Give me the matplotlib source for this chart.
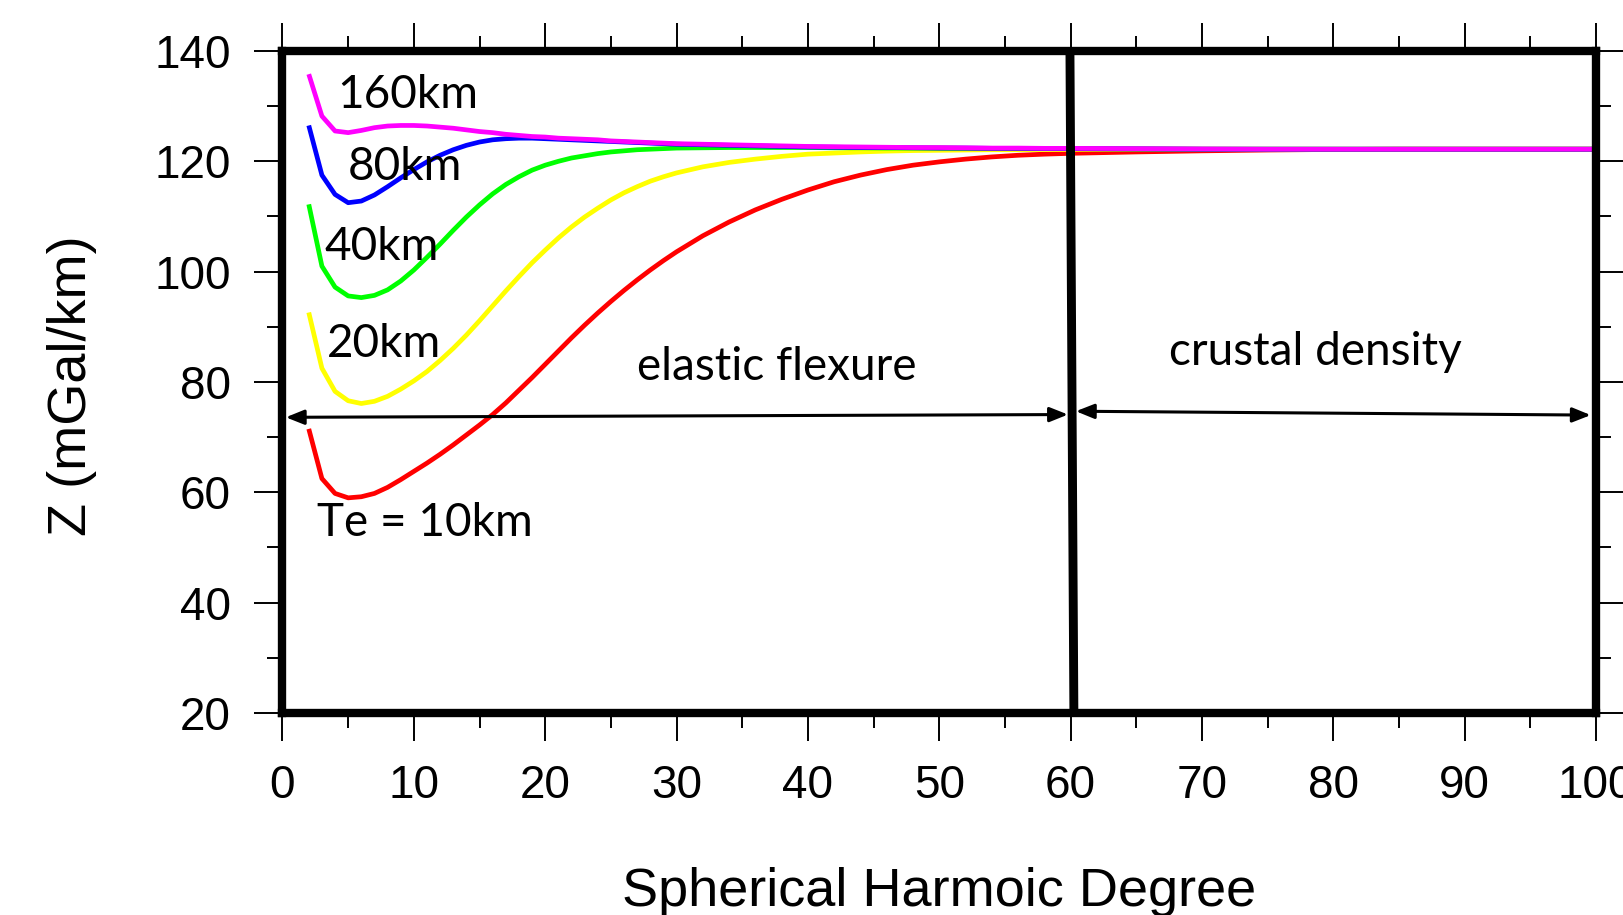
import numpy as np
import matplotlib.pyplot as plt
from matplotlib.ticker import MultipleLocator

# spherical harmonic degree (shared by all curves)
degree = list(range(2, 31)) + list(range(32, 61, 2)) + list(range(65, 101, 5))

# admittance Z (mGal/km) for each elastic thickness Te
z_te10 = [71.5, 62.5, 59.8, 59.0, 59.2, 59.8, 60.9, 62.3, 63.8, 65.3,
          66.9, 68.6, 70.4, 72.2, 74.1, 76.2, 78.5, 80.8, 83.2, 85.6,
          88.0, 90.3, 92.5, 94.6, 96.6, 98.5, 100.3, 102.0, 103.6,
          106.5, 109.0, 111.2, 113.1, 114.8, 116.3, 117.5, 118.5, 119.3,
          119.9, 120.4, 120.8, 121.1, 121.3, 121.45,
          121.7, 121.9, 122.05, 122.15, 122.2, 122.2, 122.2, 122.2]
z_te20 = [92.6, 82.5, 78.3, 76.6, 76.1, 76.5, 77.4, 78.7, 80.2, 81.9,
          83.9, 86.1, 88.5, 91.1, 93.8, 96.5, 99.1, 101.6, 103.9, 106.1,
          108.1, 109.9, 111.5, 113.0, 114.3, 115.4, 116.4, 117.2, 117.9,
          119.0, 119.8, 120.4, 120.9, 121.3, 121.5, 121.7, 121.85, 121.95,
          122.0, 122.05, 122.1, 122.1, 122.15, 122.15,
          122.2, 122.2, 122.2, 122.2, 122.2, 122.2, 122.2, 122.2]
z_te40 = [112.2, 101.0, 97.2, 95.6, 95.3, 95.7, 96.7, 98.3, 100.3, 102.6,
          105.0, 107.5, 109.9, 112.1, 114.1, 115.8, 117.2, 118.4, 119.3, 120.0,
          120.6, 121.0, 121.4, 121.7, 121.9, 122.1, 122.2, 122.3, 122.4,
          122.45, 122.5, 122.5, 122.5, 122.5, 122.45, 122.45, 122.4, 122.4,
          122.4, 122.35, 122.35, 122.3, 122.3, 122.3,
          122.25, 122.2, 122.2, 122.2, 122.2, 122.2, 122.2, 122.2]
z_te80 = [126.5, 117.5, 114.0, 112.5, 112.8, 113.9, 115.4, 117.0, 118.5, 119.9,
          121.1, 122.1, 122.9, 123.5, 123.9, 124.1, 124.2, 124.2, 124.1, 124.0,
          123.9, 123.8, 123.7, 123.6, 123.5, 123.4, 123.3, 123.2, 123.1,
          123.0, 122.9, 122.8, 122.7, 122.6, 122.55, 122.5, 122.5, 122.45,
          122.4, 122.4, 122.35, 122.35, 122.3, 122.3,
          122.25, 122.2, 122.2, 122.2, 122.2, 122.2, 122.2, 122.2]
z_te160 = [135.8, 128.2, 125.5, 125.2, 125.6, 126.1, 126.4, 126.5, 126.5, 126.4,
           126.2, 126.0, 125.7, 125.4, 125.2, 124.9, 124.7, 124.5, 124.4, 124.2,
           124.1, 124.0, 123.9, 123.7, 123.6, 123.5, 123.4, 123.3, 123.2,
           123.1, 123.0, 122.9, 122.8, 122.7, 122.65, 122.6, 122.55, 122.5,
           122.5, 122.45, 122.4, 122.4, 122.35, 122.35,
           122.3, 122.25, 122.2, 122.2, 122.2, 122.2, 122.2, 122.2]

curves = [(z_te10, "#ff0000"), (z_te20, "#ffff00"), (z_te40, "#00ff00"),
          (z_te80, "#0000ff"), (z_te160, "#ff00ff")]

# curve labels: (text, degree of left edge, Z at baseline)
labels = [("160km", 4.2, 129.6), ("80km", 5.0, 116.6), ("40km", 3.2, 102.1),
          ("20km", 3.4, 84.6), ("Te = 10km", 2.6, 52.0),
          ("elastic flexure", 27.0, 80.4), ("crustal density", 67.5, 83.1)]

plt.rcParams["font.family"] = ["Liberation Sans", "DejaVu Sans"]

fig = plt.figure(figsize=(16.23, 9.15), dpi=100)
ax = fig.add_axes([0.17406, 0.22077, 0.80931, 0.72350])

for z, c in curves:
    ax.plot(degree, z, color=c, lw=3.4, solid_joinstyle="round",
            solid_capstyle="butt", zorder=3)

# boundary between the two regimes
ax.plot([59.95, 60.25], [140, 20], color="black", lw=6.4, zorder=4,
        solid_capstyle="butt", clip_on=False)

ax.set_xlim(0, 100)
ax.set_ylim(20, 140)
ax.xaxis.set_major_locator(MultipleLocator(10))
ax.xaxis.set_minor_locator(MultipleLocator(5))
ax.yaxis.set_major_locator(MultipleLocator(20))
ax.yaxis.set_minor_locator(MultipleLocator(10))
ax.tick_params(which="both", direction="out", top=True, right=True,
               width=1.4, color="black", labelsize=33, pad=17)
ax.tick_params(which="major", length=20)
ax.tick_params(which="minor", length=11)
for s in ax.spines.values():
    s.set_linewidth(6.0)
    s.set_zorder(5)

ax.set_xlabel("Spherical Harmoic Degree", fontsize=39)
ax.xaxis.set_label_coords(0.5, -0.232)
ax.set_ylabel("Z (mGal/km)", fontsize=39)
ax.yaxis.set_label_coords(-0.141, 0.495)

for txt, x, y in labels:
    ax.text(x, y, txt, fontsize=33, family="Lato", ha="left", va="baseline",
            zorder=6)

arrow = dict(arrowstyle="<|-|>,head_length=0.55,head_width=0.22",
             color="black", lw=2.2, mutation_scale=20, shrinkA=0, shrinkB=0)
ax.annotate("", xy=(59.8, 74.1), xytext=(0.25, 73.6), arrowprops=arrow,
            zorder=6)
ax.annotate("", xy=(99.6, 74.0), xytext=(60.4, 74.7), arrowprops=arrow,
            zorder=6)

fig.savefig("out.png", dpi=100)
